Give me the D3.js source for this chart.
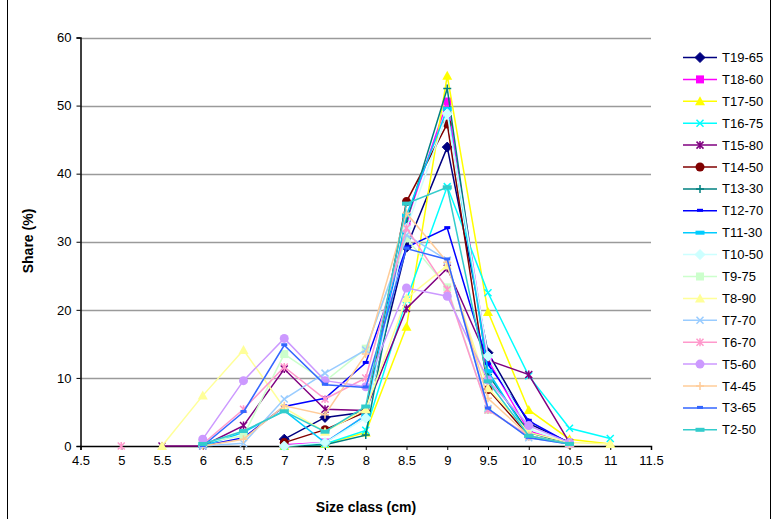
<!DOCTYPE html>
<html><head><meta charset="utf-8">
<script src="https://cdn.jsdelivr.net/npm/d3@7"></script>
<style>body{margin:0;background:#fff;}svg{display:block;font-family:"Liberation Sans",Arial,sans-serif;}</style>
</head><body><svg id="c" width="774" height="519"></svg>
<script>
// x categories (size class, cm)
const sizeClasses = [5, 5.5, 6, 6.5, 7, 7.5, 8, 8.5, 9, 9.5, 10, 10.5, 11];
const yTicks = [0, 10, 20, 30, 40, 50, 60];
const xTicks = [4.5, 5, 5.5, 6, 6.5, 7, 7.5, 8, 8.5, 9, 9.5, 10, 10.5, 11, 11.5];
const seriesNames = ["T19-65","T18-60","T17-50","T16-75","T15-80","T14-50","T13-30","T12-70","T11-30","T10-50","T9-75","T8-90","T7-70","T6-70","T5-60","T4-45","T3-65","T2-50"];
// values per series, aligned with sizeClasses (null = no point)
const T19_65 = [null,null,null,null,1.0,4.2,5.0,29.2,43.9,13.7,3.3,0.5,null];
const T18_60 = [null,null,null,null,0.2,0.5,4.5,33.0,50.6,12.6,2.2,0.3,null];
const T17_50 = [null,null,null,null,0.0,0.3,2.0,17.5,54.4,19.7,5.3,1.0,0.3];
const T16_75 = [null,null,null,null,0.0,0.3,2.3,21.5,38.1,22.5,10.3,2.6,1.1];
const T15_80 = [null,0.0,0.0,3.0,11.3,5.4,5.2,20.2,26.1,12.6,10.5,0.5,null];
const T14_50 = [null,null,null,null,0.5,2.4,5.0,35.9,47.3,8.3,1.5,0.3,null];
const T13_30 = [null,null,null,null,0.0,0.2,1.6,33.0,52.5,10.5,2.0,0.3,null];
const T12_70 = [null,null,0.0,1.2,5.8,7.0,12.2,29.2,32.0,12.0,3.7,0.4,null];
const T11_30 = [null,null,0.0,2.0,5.2,0.5,4.5,33.9,49.5,11.0,1.5,0.3,null];
const T10_50 = [null,null,null,null,0.0,0.5,4.1,32.0,48.8,13.2,2.5,0.5,null];
const T9_75  = [null,null,0.5,1.5,13.5,9.5,14.3,30.5,23.3,5.3,1.5,0.3,null];
const T8_90  = [null,0.0,7.4,14.1,5.6,2.1,5.4,21.7,26.5,8.5,2.0,0.5,0.3];
const T7_70  = [null,null,0.0,0.4,6.9,10.7,14.1,31.0,27.3,5.5,1.2,0.3,null];
const T6_70  = [0.0,null,0.3,5.4,11.6,6.9,10.0,32.0,23.0,5.3,1.5,0.3,null];
const T5_60  = [null,null,1.0,9.6,15.8,9.6,8.7,23.2,22.0,9.7,3.0,0.5,null];
const T4_45  = [null,null,0.0,1.0,5.9,4.6,13.5,34.2,27.0,7.0,1.5,0.3,null];
const T3_65  = [null,null,0.0,5.0,14.8,9.0,8.6,29.0,27.4,5.5,1.2,0.3,null];
const T2_50  = [null,null,0.3,2.2,5.1,2.1,5.8,35.6,38.0,9.5,1.5,0.3,null];
const seriesValues = [T19_65,T18_60,T17_50,T16_75,T15_80,T14_50,T13_30,T12_70,T11_30,T10_50,T9_75,T8_90,T7_70,T6_70,T5_60,T4_45,T3_65,T2_50];
const seriesColors = ["#000080","#FF00FF","#FFFF00","#00FFFF","#800080","#800000","#008080","#0000FF","#00CCFF","#CCFFFF","#CCFFCC","#FFFF99","#99CCFF","#FF99CC","#CC99FF","#FFCC99","#3366FF","#33CCCC"];
const seriesMarkers = ["diamond","square","triangle","x","star","circle","plus","dash","bar","diamond","square","triangle","x","star","circle","plus","dash","bar"];

const svg = d3.select("#c");
const pLeft = 80.5, pRight = 651, pTop = 37.5, pBottom = 446;
const x = d3.scaleLinear().domain([4.5, 11.5]).range([pLeft, pRight]);
const y = d3.scaleLinear().domain([0, 60]).range([pBottom, pTop]);

// chart frame (top and bottom edges fall outside the picture)
svg.append("rect").attr("x",7.5).attr("y",-2).attr("width",763).attr("height",525).attr("fill","none").attr("stroke","#000").attr("stroke-width",1);

// gridlines
svg.append("g").selectAll("line").data(yTicks.filter(d=>d>0)).join("line")
  .attr("x1",pLeft).attr("x2",pRight).attr("y1",d=>Math.round(y(d))+0.5).attr("y2",d=>Math.round(y(d))+0.5)
  .attr("stroke","#9a9a9a").attr("stroke-width",1.5);

// axes
const yAxis = d3.axisLeft(y).tickValues(yTicks).tickSize(4).tickPadding(5).tickFormat(d3.format("d"));
const gy = svg.append("g").attr("transform",`translate(${pLeft},0)`).call(yAxis);
const xAxis = d3.axisBottom(x).tickValues(xTicks).tickSize(4).tickPadding(6).tickFormat(d=>String(d));
const gx = svg.append("g").attr("transform",`translate(0,${pBottom})`).call(xAxis);
[gy,gx].forEach(g=>{
  g.select(".domain").attr("stroke","#000").attr("stroke-width",1.5);
  g.selectAll(".tick line").attr("stroke","#000");
  g.selectAll("text").attr("font-size",13).attr("fill","#000").attr("font-family","Liberation Sans, Arial, sans-serif");
});

// axis titles
svg.append("text").attr("x",366).attr("y",512).attr("text-anchor","middle").attr("font-weight","bold").attr("font-size",14).text("Size class (cm)");
svg.append("text").attr("transform","translate(33,241) rotate(-90)").attr("text-anchor","middle").attr("font-weight","bold").attr("font-size",14).text("Share (%)");

function marker(g, type, color, cx, cy){
  const s = 4;
  if(type==="diamond") g.append("path").attr("d",`M${cx},${cy-s-1}L${cx+s+1},${cy}L${cx},${cy+s+1}L${cx-s-1},${cy}Z`).attr("fill",color).attr("stroke",color);
  else if(type==="square") g.append("rect").attr("x",cx-s).attr("y",cy-s).attr("width",2*s).attr("height",2*s).attr("fill",color);
  else if(type==="triangle") g.append("path").attr("d",`M${cx},${cy-s-1}L${cx+s+1},${cy+s}L${cx-s-1},${cy+s}Z`).attr("fill",color);
  else if(type==="circle") g.append("circle").attr("cx",cx).attr("cy",cy).attr("r",s+0.5).attr("fill",color);
  else if(type==="x") g.append("path").attr("d",`M${cx-3.5},${cy-3.5}L${cx+3.5},${cy+3.5}M${cx-3.5},${cy+3.5}L${cx+3.5},${cy-3.5}`).attr("stroke",color).attr("stroke-width",1.5);
  else if(type==="star") g.append("path").attr("d",`M${cx-3.5},${cy-3.5}L${cx+3.5},${cy+3.5}M${cx-3.5},${cy+3.5}L${cx+3.5},${cy-3.5}M${cx},${cy-4}L${cx},${cy+4}`).attr("stroke",color).attr("stroke-width",1.5);
  else if(type==="plus") g.append("path").attr("d",`M${cx-4},${cy}L${cx+4},${cy}M${cx},${cy-4}L${cx},${cy+4}`).attr("stroke",color).attr("stroke-width",1.5);
  else if(type==="dash") g.append("rect").attr("x",cx-3).attr("y",cy-2).attr("width",6).attr("height",3).attr("fill",color);
  else if(type==="bar") g.append("rect").attr("x",cx-4.5).attr("y",cy-2).attr("width",9).attr("height",4).attr("fill",color);
}

const line = d3.line().defined(d=>d.v!==null).x(d=>x(d.x)).y(d=>y(d.v));
const plot = svg.append("g");
seriesValues.forEach((vals,i)=>{
  const pts = sizeClasses.map((sx,j)=>({x:sx, v:vals[j]}));
  const g = plot.append("g");
  g.append("path").datum(pts).attr("d",line).attr("fill","none").attr("stroke",seriesColors[i]).attr("stroke-width",1.5);
  pts.filter(p=>p.v!==null).forEach(p=>marker(g, seriesMarkers[i], seriesColors[i], x(p.x), y(p.v)));
});

// legend
const lg = svg.append("g");
seriesNames.forEach((n,i)=>{
  const ly = 57.5 + i*21.9;
  lg.append("line").attr("x1",683).attr("x2",717).attr("y1",ly).attr("y2",ly).attr("stroke",seriesColors[i]).attr("stroke-width",1.5);
  marker(lg, seriesMarkers[i], seriesColors[i], 700, ly);
  lg.append("text").attr("x",722).attr("y",ly+4.5).attr("font-size",13).text(n);
});
</script></body></html>
